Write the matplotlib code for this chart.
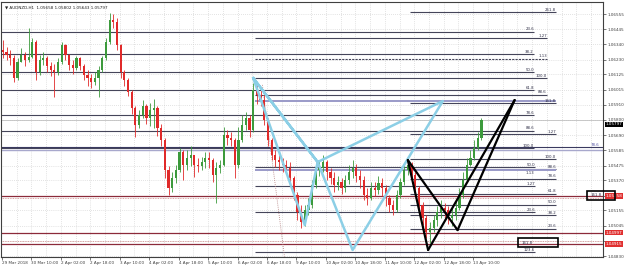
import matplotlib
matplotlib.use("Agg")
import matplotlib.pyplot as plt
from matplotlib.patches import Rectangle

# AUDNZD H1, drawn as 2-hour candles (open = previous close)
first_open = 1.06299
closes = [
    1.06284, 1.06263, 1.06241, 1.06099, 1.06213, 1.06263, 1.06227, 1.06249, 1.06356, 1.06142,
    1.06227, 1.06241, 1.06184, 1.06156, 1.06142, 1.06213, 1.06334, 1.06263, 1.06192, 1.06170,
    1.06241, 1.06184, 1.06120, 1.06099, 1.06070, 1.06099, 1.06156, 1.06241, 1.06356, 1.06512,
    1.06498, 1.06334, 1.06142, 1.06085, 1.05999, 1.05885, 1.05764, 1.05835, 1.05899, 1.05814,
    1.05871, 1.05885, 1.05742, 1.05657, 1.05443, 1.05315, 1.05386, 1.05443, 1.05571, 1.05479,
    1.05528, 1.05550, 1.05479, 1.05471, 1.05500, 1.05528, 1.05514, 1.05407, 1.05457, 1.05479,
    1.05692, 1.05671, 1.05657, 1.05479, 1.05657, 1.05764, 1.05814, 1.05728, 1.06013, 1.05978,
    1.05942, 1.05799, 1.05657, 1.05550, 1.05514, 1.05500, 1.05479, 1.05457, 1.05386, 1.05265,
    1.05143, 1.05072, 1.05157, 1.05193, 1.05336, 1.05443, 1.05457, 1.05500, 1.05429, 1.05386,
    1.05336, 1.05357, 1.05315, 1.05371, 1.05429, 1.05457, 1.05400, 1.05371, 1.05265, 1.05243,
    1.05315, 1.05300, 1.05350, 1.05315, 1.05243, 1.05193, 1.05157, 1.05265, 1.05357, 1.05443,
    1.05479, 1.05407, 1.05315, 1.05193, 1.05101, 1.05001, 1.05029, 1.05086, 1.05143, 1.05172,
    1.05157, 1.05101, 1.05122, 1.05172, 1.05265, 1.05371, 1.05479, 1.05528, 1.05600, 1.05671,
    1.05797,
]
highs = [
    1.06370, 1.06320, 1.06299, 1.06263, 1.06241, 1.06313, 1.06284, 1.06455, 1.06384, 1.06370,
    1.06263, 1.06284, 1.06256, 1.06213, 1.06199, 1.06241, 1.06356, 1.06341, 1.06270, 1.06227,
    1.06256, 1.06249, 1.06199, 1.06156, 1.06127, 1.06142, 1.06184, 1.06256, 1.06384, 1.06562,
    1.06555, 1.06527, 1.06341, 1.06156, 1.06099, 1.06013, 1.05899, 1.05871, 1.05942, 1.05913,
    1.05921, 1.05949, 1.05899, 1.05771, 1.05671, 1.05471, 1.05429, 1.05479, 1.05600, 1.05586,
    1.05586, 1.05614, 1.05543, 1.05528, 1.05536, 1.05571, 1.05571, 1.05528, 1.05500, 1.05514,
    1.05749, 1.05728, 1.05714, 1.05671, 1.05749, 1.05835, 1.05856, 1.05835, 1.06063, 1.06049,
    1.06013, 1.05978, 1.05814, 1.05671, 1.05586, 1.05550, 1.05528, 1.05514, 1.05500, 1.05400,
    1.05286, 1.05193, 1.05193, 1.05243, 1.05371, 1.05479, 1.05514, 1.05550, 1.05514, 1.05457,
    1.05429, 1.05400, 1.05386, 1.05407, 1.05479, 1.05514, 1.05486, 1.05443, 1.05400, 1.05315,
    1.05357, 1.05357, 1.05400, 1.05386, 1.05336, 1.05265, 1.05229, 1.05300, 1.05386, 1.05479,
    1.05528, 1.05500, 1.05429, 1.05329, 1.05215, 1.05122, 1.05072, 1.05122, 1.05186, 1.05229,
    1.05208, 1.05186, 1.05172, 1.05229, 1.05315, 1.05429, 1.05528, 1.05586, 1.05657, 1.05714,
    1.05815,
]
lows = [
    1.06241, 1.06227, 1.06192, 1.06070, 1.06085, 1.06213, 1.06184, 1.06213, 1.06241, 1.06085,
    1.06120, 1.06192, 1.06142, 1.06113, 1.05963, 1.06120, 1.06199, 1.06227, 1.06156, 1.06127,
    1.06156, 1.06156, 1.06085, 1.06042, 1.06028, 1.06049, 1.05963, 1.06142, 1.06227, 1.06341,
    1.06455, 1.06299, 1.06099, 1.06042, 1.05970, 1.05842, 1.05678, 1.05742, 1.05814, 1.05771,
    1.05757, 1.05742, 1.05685, 1.05614, 1.05386, 1.05265, 1.05286, 1.05350, 1.05429, 1.05371,
    1.05443, 1.05471, 1.05393, 1.05429, 1.05443, 1.05457, 1.05457, 1.05357, 1.05208, 1.05421,
    1.05471, 1.05621, 1.05614, 1.05386, 1.05457, 1.05643, 1.05728, 1.05678, 1.05714, 1.05913,
    1.05899, 1.05764, 1.05614, 1.05514, 1.05464, 1.05443, 1.05429, 1.05414, 1.05350, 1.05229,
    1.05086, 1.05029, 1.05044, 1.05122, 1.05172, 1.05315, 1.05400, 1.05429, 1.05371, 1.05343,
    1.05286, 1.05300, 1.05272, 1.05286, 1.05343, 1.05386, 1.05357, 1.05315, 1.05229, 1.05193,
    1.05229, 1.05258, 1.05272, 1.05258, 1.05186, 1.05143, 1.05122, 1.05143, 1.05243, 1.05336,
    1.05407, 1.05371, 1.05286, 1.05157, 1.05051, 1.04958, 1.04922, 1.05001, 1.05044, 1.05101,
    1.05101, 1.05058, 1.05044, 1.05086, 1.05157, 1.05243, 1.05357, 1.05471, 1.05514, 1.05586,
    1.05660,
]

date_hours = [0.5, 16.5, 32.5, 48.5, 64.5, 80.5, 96.5, 112.5, 128.5, 144.5,
              160.5, 176.5, 192.5, 208.5, 224.5, 240.5, 256.5]
date_labels = ["29 Mar 2018", "30 Mar 10:00", "2 Apr 02:00", "2 Apr 18:00", "3 Apr 10:00",
               "4 Apr 02:00", "4 Apr 18:00", "5 Apr 10:00", "6 Apr 02:00", "6 Apr 18:00",
               "9 Apr 10:00", "10 Apr 02:00", "10 Apr 18:00", "11 Apr 10:00", "12 Apr 02:00",
               "12 Apr 18:00", "13 Apr 10:00"]
price_ticks = [1.06555, 1.06445, 1.06340, 1.06230, 1.06125, 1.06015, 1.05910, 1.05800, 1.05690,
               1.05585, 1.05475, 1.05370, 1.05260, 1.05155, 1.05045, 1.04935, 1.04830]
# 1.05260 and 1.04935 sit under the red price boxes
price_labels = ["1.06555", "1.06445", "1.06340", "1.06230", "1.06125", "1.06015", "1.05910",
                "1.05800", "1.05690", "1.05585", "1.05475", "1.05370", "", "1.05155",
                "1.05045", "", "1.04830"]

# fibonacci tools: (0% price, 100% price), levels, labels
fib_a_anchor = (1.06684, 1.05600)
fib_a_levels = [23.6, 38.2, 50.0, 61.8, 78.6, 88.6, 100.0]
fib_a_labels = ["23.6", "38.2", "50.0", "61.8", "78.6", "88.6", "100.0"]
fib_b_anchor = (1.05051, 1.06099)
fib_b_levels = [88.6, 100.0, 113.0, 127.0]
fib_b_labels = ["88.6", "100.0", "1.13", "1.27"]
fib_c_anchor = (1.04873, 1.05521)
fib_c_levels = [23.6, 38.2, 50.0, 61.8, 78.6, 88.6, 100.0, 127.2, 161.8, 261.8]
fib_c_labels = ["23.6", "38.2", "50.0", "61.8", "78.6", "88.6", "100.0", "1.27", "161.8", "261.8"]

# loose levels starting at the blue X point
misc_prices = [1.05935, 1.05464, 1.05443, 1.05329, 1.05143, 1.04858]
misc_labels = ["", "50.0", "1.13", "1.27", "23.6", "123.6"]
red_lines = [1.05258, 1.04997, 1.04915]

# harmonic patterns (hour, price)
blue_x = [137, 165, 172, 191, 240]
blue_p = [1.06099, 1.05051, 1.05500, 1.04873, 1.05935]
black_x = [221, 232, 248, 279]
black_p = [1.05514, 1.04873, 1.05015, 1.05942]
last_price = 1.05797

fig = plt.figure(figsize=(6.25, 2.68), dpi=100)
ax = fig.add_axes([1 / 625, 11 / 268, 602 / 625, 255 / 268])
ax.set_xlim(0, 327)
ax.set_ylim(1.04823, 1.06641)

# grid
for h in range(8, 328, 8):
    ax.axvline(h + 0.5, color="#c8c8c8", lw=0.5, ls=(0, (1, 2)), zorder=0)
for p in price_ticks:
    ax.axhline(p, color="#c8c8c8", lw=0.5, ls=(0, (1, 2)), zorder=0)

lab_kw = dict(fontsize=2.8, color="#303048", ha="right", va="bottom")


def fib(anchor, levels, labels, h0, h1, color="#45455a", lw=0.8):
    p0, p1 = anchor
    for lev, lab in zip(levels, labels):
        p = p0 + (p1 - p0) * lev / 100
        ls = (0, (2, 1)) if lab == "1.13" else "-"
        ax.hlines(p, h0, h1, color=color, lw=lw, ls=ls, zorder=1)
        ax.text(h1, p + 0.00003, lab, **lab_kw)


fib(fib_a_anchor, fib_a_levels, fib_a_labels, 0, 289.5)
fib(fib_b_anchor, fib_b_levels, fib_b_labels, 138, 296.5)
fib(fib_c_anchor, fib_c_levels, fib_c_labels, 222, 301.5)

for p, lab in zip(misc_prices, misc_labels):
    thick = lab in ("", "1.13")
    ax.hlines(p, 138, 301.5 if thick else 290, color="#9a9ac8" if thick else "#45455a",
              lw=1.4 if thick else 0.8, zorder=1)
    if lab and lab != "1.13":
        ax.text(290, p + 0.00003, lab, **lab_kw)
ax.text(289.5, 1.05443 - 0.00004, "1.13", fontsize=2.8, color="#303048", ha="right", va="top")

# long levels to the edge
ax.axhline(1.05607, color="#3a3a60", lw=0.8, zorder=1)
ax.axhline(1.05586, color="#a8a8cc", lw=1.0, zorder=1)
ax.text(325, 1.05607 + 0.00003, "78.6", fontsize=2.8, color="#5050a0", ha="right", va="bottom")
for p in red_lines:
    ax.axhline(p, color="#8c2a3a", lw=0.9, zorder=1)
ax.axhline(1.05243, color="#d08a8a", lw=0.6, ls=(0, (1, 1)), zorder=1)
ax.axhline(1.04937, color="#d08a8a", lw=0.6, ls=(0, (1, 1)), zorder=1)
ax.axhline(last_price, color="#c0c0c0", lw=0.6, zorder=1)

# dotted trend line from the blue X point
ax.plot([142, 154], [1.0605, 1.04823], color="#b07a7a", lw=0.6, ls=(0, (1, 1.5)), zorder=1)

# candles
opens = [first_open] + closes[:-1]
xs = [2 * i + 1 for i in range(len(closes))]
cols = ["#3c9a3c" if c >= o else "#e02a2a" for o, c in zip(opens, closes)]
ax.vlines(xs, lows, highs, colors=cols, lw=0.6, zorder=3)
ax.bar(xs, [c - o for o, c in zip(opens, closes)], bottom=opens, width=1.2,
       color=cols, linewidth=0, zorder=3)

# harmonic patterns
bx = [blue_x[i] for i in (0, 1, 2, 0, 2, 3, 4, 2)]
bp = [blue_p[i] for i in (0, 1, 2, 0, 2, 3, 4, 2)]
ax.plot(bx, bp, color="#8ccfe6", lw=1.8, solid_joinstyle="round", zorder=4)
for a, b in [(0, 1), (1, 3), (0, 2), (2, 3)]:
    ax.plot([black_x[a], black_x[b]], [black_p[a], black_p[b]], color="black", lw=1.6,
            solid_capstyle="round", zorder=5)

# boxes
ax.add_patch(Rectangle((281, 1.04894), 21.7, 0.00064, fill=False, ec="black", lw=1.2, zorder=6))
ax.text(283, 1.04926, "161.8", fontsize=2.8, color="#303048", va="center", zorder=6)

yt = ax.get_yaxis_transform()
ax.add_patch(Rectangle((0.973, 1.05229), 0.047, 0.00064, transform=yt, fill=False,
                       ec="black", lw=1.2, clip_on=False, zorder=12))
ax.text(0.979, 1.05262, "161.8", transform=yt, fontsize=2.8, color="#303048", va="center",
        clip_on=False, zorder=12)
for p, txt in zip(red_lines, ["1.05258", "1.04997", "1.04915"]):
    ax.text(1.004, p, txt, transform=yt, fontsize=3, color="white", va="center", ha="left",
            clip_on=False, zorder=11,
            bbox=dict(boxstyle="square,pad=0.15", fc="#e03030", ec="none"))
# current price box sits just under the 1.05800 tick label
ax.text(1.004, last_price - 0.00013, "1.05797", transform=yt, fontsize=3, color="white",
        va="top", ha="left", clip_on=False, zorder=11,
        bbox=dict(boxstyle="square,pad=0.15", fc="black", ec="none"))

# axes
ax.set_yticks(price_ticks)
ax.set_yticklabels(price_labels)
ax.set_xticks(date_hours)
ax.set_xticklabels(date_labels, ha="left")
ax.yaxis.tick_right()
ax.tick_params(axis="y", length=2, width=0.5, labelsize=3, pad=1.5, colors="#404040")
ax.tick_params(axis="x", length=2, width=0.5, labelsize=3, pad=1.2, colors="#404040")
for s in ax.spines.values():
    s.set_color("#404040")
    s.set_linewidth(0.8)

ax.text(0.006, 0.985, "\u25bc AUDNZD,H1  1.05658 1.05802 1.05643 1.05797",
        transform=ax.transAxes, fontsize=3, color="#202020", va="top", ha="left", zorder=12)

fig.savefig("out.png", dpi=100, facecolor="white")
